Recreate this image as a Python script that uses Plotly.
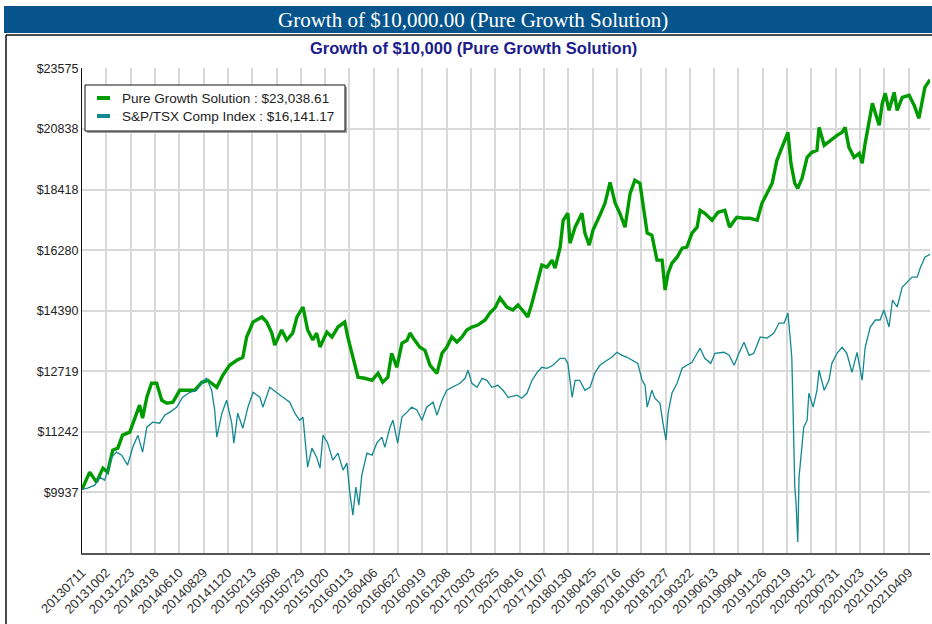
import numpy as np
import plotly.graph_objects as go

# ---------------- data ----------------
tick_labels = [
    "20130711", "20131002", "20131223", "20140318", "20140610", "20140829",
    "20141120", "20150213", "20150508", "20150729", "20151020", "20160113",
    "20160406", "20160627", "20160919", "20161208", "20170303", "20170525",
    "20170816", "20171107", "20180130", "20180425", "20180716", "20181005",
    "20181227", "20190322", "20190613", "20190904", "20191126", "20200219",
    "20200512", "20200731", "20201023", "20210115", "20210409",
]
days_per_tick = 57          # trading days between labelled dates
last_day = 1988             # trading-day index of the last observation

y_ticks = [9937, 11242, 12719, 14390, 16280, 18418, 20838, 23575]
y_floor = 8783

pgs_name = "Pure Growth Solution"
pgs_day = [0, 18, 34, 49, 60, 72, 84, 95, 112, 124, 135, 142, 152, 163, 175, 187, 199, 213,
           229, 246, 264, 281, 295, 316, 330, 346, 363, 377, 386, 401, 422, 433, 445, 452,
           468, 480, 494, 504, 518, 529, 541, 550, 558, 574, 586, 600, 616, 623, 635, 647,
           663, 680, 694, 705, 717, 726, 738, 750, 762, 769, 780, 792, 804, 816, 832, 844,
           855, 867, 879, 891, 902, 914, 928, 945, 956, 968, 980, 996, 1010, 1022, 1038,
           1045, 1055, 1067, 1078, 1090, 1102, 1109, 1121, 1128, 1139, 1144, 1156, 1172,
           1179, 1189, 1198, 1214, 1226, 1238, 1250, 1261, 1273, 1285, 1296, 1308, 1315,
           1325, 1336, 1343, 1348, 1360, 1367, 1374, 1383, 1395, 1407, 1418, 1430, 1442,
           1449, 1460, 1477, 1491, 1507, 1518, 1535, 1552, 1566, 1583, 1594, 1606, 1618,
           1629, 1641, 1655, 1662, 1671, 1678, 1688, 1700, 1711, 1723, 1728, 1740, 1754,
           1770, 1782, 1789, 1798, 1810, 1822, 1829, 1836, 1846, 1853, 1860, 1869, 1876,
           1883, 1892, 1904, 1911, 1923, 1939, 1951, 1962, 1969, 1976, 1988]
pgs_val = [10000, 10357, 10148, 10441, 10357, 10831, 10875, 11167, 11235, 11584, 11870, 11560,
           12063, 12411, 12411, 11989, 11916, 11940, 12236, 12236, 12236, 12437, 12488, 12311,
           12616, 12875, 13007, 13087, 13640, 14062, 14207, 14062, 13750, 13418, 13835, 13556,
           13750, 14207, 14499, 13835, 13556, 13750, 13365, 13778, 13640, 13919, 14062, 13640,
           13087, 12565, 12540, 12488, 12668, 12437, 12565, 13194, 12823, 13466, 13548, 13750,
           13548, 13356, 13275, 12875, 12667, 13194, 13356, 13640, 13500, 13640, 13835, 13919,
           13976, 14120, 14323, 14469, 14767, 14498, 14410, 14560, 14323, 14207, 14617, 15222,
           15790, 15726, 15951, 15694, 16380, 17302, 17549, 16514, 17062, 17549, 16853, 16447,
           16957, 17478, 17911, 18694, 17911, 17549, 17062, 18279, 18770, 18656, 17911, 16853,
           16785, 16280, 15951, 15951, 15010, 15534, 15855, 16049, 16346, 16380, 16853, 17062,
           17657, 17549, 17302, 17586, 17657, 17062, 17407, 17372, 17372, 17302, 17911, 18279,
           18656, 19550, 20034, 20699, 19431, 18656, 18467, 18847, 19670, 19872, 19952, 20910,
           20157, 20364, 20573, 20699, 20910, 20075, 19670, 19832, 19431, 20239, 21296, 21957,
           21515, 20995, 21957, 22410, 21646, 22455, 21646, 22228, 22319, 21867, 21298, 21957,
           22683, 23038.61]

tsx_name = "S&P/TSX Comp Index"
tsx_day = [0, 13, 30, 42, 53, 70, 81, 93, 107, 119, 131, 142, 152, 166, 182, 194, 206, 222,
           236, 253, 269, 281, 292, 304, 311, 316, 328, 339, 351, 356, 365, 377, 389, 401, 417,
           424, 440, 457, 471, 487, 499, 510, 518, 529, 539, 550, 558, 565, 576, 588, 600, 612,
           621, 628, 635, 642, 649, 656, 668, 680, 691, 703, 710, 722, 729, 740, 750, 762, 773,
           785, 797, 808, 823, 832, 844, 855, 869, 886, 898, 905, 914, 926, 938, 949, 961, 975,
           987, 999, 1020, 1031, 1043, 1055, 1067, 1078, 1090, 1104, 1121, 1132, 1139, 1149,
           1156, 1167, 1179, 1191, 1202, 1214, 1231, 1242, 1254, 1266, 1278, 1291, 1303, 1313,
           1320, 1325, 1336, 1343, 1355, 1362, 1369, 1374, 1383, 1395, 1407, 1418, 1430, 1442,
           1449, 1460, 1474, 1484, 1505, 1517, 1529, 1540, 1552, 1564, 1575, 1590, 1606, 1622,
           1634, 1646, 1655, 1660, 1664, 1667, 1671, 1674, 1678, 1681, 1685, 1692, 1700, 1704,
           1714, 1723, 1728, 1740, 1751, 1758, 1770, 1782, 1793, 1805, 1817, 1829, 1836, 1848,
           1860, 1871, 1880, 1892, 1900, 1911, 1923, 1935, 1946, 1958, 1965, 1976, 1988]
tsx_val = [10000, 10024, 10086, 10252, 10189, 10677, 10787, 10721, 10505, 10896, 11167, 10787,
           11350, 11467, 11443, 11631, 11703, 11822, 12063, 12187, 12236, 12437, 12538, 12236,
           11757, 11121, 11678, 11992, 11443, 10986, 11678, 11327, 11822, 12187, 12063, 11822,
           12311, 12162, 12063, 11943, 11678, 11513, 11584, 10463, 10875, 10677, 10441, 11167,
           10986, 10613, 10766, 10399, 10548, 9923, 9488, 10045, 9683, 10294, 10766, 10721,
           10986, 11121, 10896, 11350, 11513, 10986, 11584, 11703, 11822, 11757, 11513, 11822,
           11943, 11631, 11992, 12236, 12311, 12411, 12538, 12745, 12411, 12311, 12538, 12488,
           12311, 12361, 12236, 12063, 12113, 12039, 12162, 12488, 12693, 12823, 12797, 12875,
           13060, 13060, 12927, 12063, 12488, 12488, 12236, 12311, 12668, 12875, 13007, 13087,
           13221, 13140, 13087, 13007, 12927, 12488, 12361, 11822, 12236, 12039, 11916, 11443,
           11054, 11678, 12162, 12411, 12797, 12875, 12953, 13194, 13329, 13060, 12927, 13194,
           13221, 13140, 12875, 13194, 13494, 13140, 13194, 13640, 13611, 13750, 14033, 14033,
           14323, 13640, 13087, 11757, 10045, 9723, 8982, 10252, 10677, 11350, 11513, 12162,
           11822, 12236, 12745, 12236, 12488, 12927, 13194, 13356, 13194, 12693, 13221, 12488,
           13356, 13919, 14120, 14120, 14410, 13919, 14707, 14499, 15098, 15252, 15409, 15409,
           15694, 16049, 16141.17]

# ---------------- style ----------------
GREEN = "#009b00"
TEAL = "#128890"
GRID = "#d9d9d9"
FONT = "Liberation Sans, Arial, sans-serif"

W, H = 932, 624
L, R, T, B = 82, 2, 68, 71
PW, PH = W - L - R, H - T - B


def px(xpix):
    return (xpix - L) / PW


def py(ypix):
    return (H - B - ypix) / PH


series = [(pgs_name, pgs_day, pgs_val, GREEN, 3.4),
          (tsx_name, tsx_day, tsx_val, TEAL, 1.3)]

fig = go.Figure()
for nm, d, v, col, lw in series:
    fig.add_trace(go.Scatter(x=d, y=v, mode="lines", name=nm,
                             line=dict(color=col, width=lw), showlegend=False,
                             hoverinfo="skip"))

tickvals = [i * days_per_tick for i in range(len(tick_labels))]

fig.update_xaxes(
    range=[0, last_day], tickvals=tickvals, ticktext=tick_labels, tickangle=-45,
    showgrid=True, gridcolor=GRID, gridwidth=1.5, zeroline=False,
    showline=True, linecolor="#555555", linewidth=2,
    tickfont=dict(family=FONT, size=13, color="#333333"), ticks="",
    ticklabelstandoff=5, automargin=False,
)
fig.update_yaxes(
    type="log", range=[np.log10(y_floor), np.log10(y_ticks[-1]) + 0.0004],
    tickvals=y_ticks, ticktext=[f"${v}" for v in y_ticks],
    showgrid=True, gridcolor=GRID, gridwidth=1.5, zeroline=False,
    showline=True, linecolor="#111111", linewidth=1.2,
    tickfont=dict(family=FONT, size=12.5, color="#222222"), ticks="",
    automargin=False,
)

shapes = [
    # top banner
    dict(type="rect", xref="paper", yref="paper", x0=px(4), x1=px(940),
         y0=py(33), y1=py(6), fillcolor="#06548b", line=dict(width=0), layer="below"),
    # chart frame (left and top edges)
    dict(type="line", xref="paper", yref="paper", x0=px(6), x1=px(6),
         y0=py(35), y1=py(640), line=dict(color="#111111", width=1.5)),
    dict(type="line", xref="paper", yref="paper", x0=px(6), x1=px(940),
         y0=py(35), y1=py(35), line=dict(color="#111111", width=1.5)),
    # legend shadow + box
    dict(type="rect", xref="paper", yref="paper", x0=px(87), x1=px(347),
         y0=py(133), y1=py(87), fillcolor="#a0a0a0", line=dict(width=0), layer="above"),
    dict(type="rect", xref="paper", yref="paper", x0=px(85), x1=px(345),
         y0=py(131), y1=py(85), fillcolor="white", line=dict(color="#111111", width=1),
         layer="above"),
]

annotations = [
    dict(text="Growth of $10,000.00 (Pure Growth Solution)", xref="paper", yref="paper",
         x=px(473), y=py(20), showarrow=False, xanchor="center", yanchor="middle",
         font=dict(family="Liberation Serif, Times New Roman, serif", size=21, color="white")),
    dict(text="<b>Growth of $10,000 (Pure Growth Solution)</b>", xref="paper", yref="paper",
         x=px(473), y=py(48), showarrow=False, xanchor="center", yanchor="middle",
         font=dict(family=FONT, size=16.5, color="#1c1c8c")),
]

# legend rows (drawn as shapes + text)
for i, (nm, d, v, col, lw) in enumerate(series):
    row_y = py(98 + 18 * i)
    shapes.append(dict(type="line", xref="paper", yref="paper", x0=px(97), x1=px(110),
                       y0=row_y, y1=row_y, line=dict(color=col, width=4), layer="above"))
    annotations.append(dict(text=f"{nm} : ${v[-1]:,.2f}", xref="paper", yref="paper",
                            x=px(120), y=row_y, showarrow=False, xanchor="left",
                            yanchor="middle",
                            font=dict(family=FONT, size=13.5, color="#222222")))

fig.update_layout(
    width=W, height=H, autosize=False,
    margin=dict(l=L, r=R, t=T, b=B, pad=0, autoexpand=False),
    paper_bgcolor="white", plot_bgcolor="white",
    font=dict(family=FONT, size=12, color="#222222"),
    shapes=shapes, annotations=annotations,
    showlegend=False,
)

fig.write_html(
    "out.html",
    config={"displayModeBar": False},
    post_script="document.body.style.margin='0';document.body.style.overflow='hidden';",
)
